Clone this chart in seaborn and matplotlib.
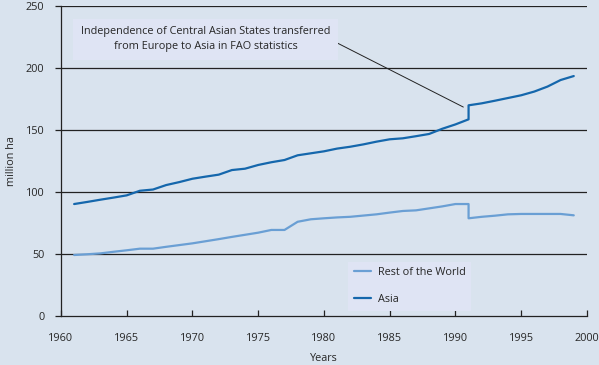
import pandas as pd
import seaborn as sns
import matplotlib.pyplot as plt

sns.set_theme(style="white")
plt.rcParams['font.family'] = ['Open Sans', 'DejaVu Sans']

# data (1991 appears twice: before/after the FAO reclassification)
years = [1961, 1962, 1963, 1964, 1965, 1966, 1967, 1968, 1969, 1970,
         1971, 1972, 1973, 1974, 1975, 1976, 1977, 1978, 1979, 1980,
         1981, 1982, 1983, 1984, 1985, 1986, 1987, 1988, 1989, 1990,
         1991, 1991, 1992, 1993, 1994, 1995, 1996, 1997, 1998, 1999]
asia = [90.3, 92.0, 93.8, 95.5, 97.3, 101.0, 102.0, 105.6, 108.0, 110.7,
        112.4, 114.0, 117.7, 118.8, 121.8, 124.0, 125.8, 129.6, 131.2, 132.8,
        135.0, 136.5, 138.4, 140.6, 142.5, 143.3, 145.0, 146.8, 151.0, 154.5,
        158.6, 169.9, 171.5, 173.6, 175.8, 178.0, 181.0, 185.0, 190.3, 193.5]
rest = [49.2, 49.8, 50.5, 51.8, 53.0, 54.3, 54.3, 55.8, 57.2, 58.6,
        60.3, 62.0, 63.8, 65.5, 67.2, 69.4, 69.4, 76.0, 78.0, 78.8,
        79.5, 80.0, 81.0, 82.0, 83.4, 84.7, 85.2, 86.8, 88.4, 90.3,
        90.3, 78.8, 80.0, 80.9, 82.0, 82.3, 82.3, 82.3, 82.3, 81.2]
series_names = ["Rest of the World", "Asia"]
series_colors = ["#6a9fd4", "#1567ac"]

df = pd.DataFrame({
    "year": years * 2,
    "value": rest + asia,
    "region": [series_names[0]] * len(years) + [series_names[1]] * len(years),
})

bg = "#d9e3ee"
fig = plt.figure(figsize=(5.99, 3.65), dpi=100, facecolor=bg)
ax = fig.add_axes([0.1018, 0.1342, 0.878, 0.8494])
ax.set_facecolor(bg)

for y in [50, 100, 150, 200, 250]:
    ax.axhline(y, color="#222222", lw=0.9, zorder=1)

sns.lineplot(data=df, x="year", y="value", hue="region", hue_order=series_names,
             palette=series_colors, sort=False, estimator=None, units="region",
             lw=1.6, ax=ax, zorder=3)

ax.set_xlim(1960, 2000)
ax.set_ylim(0, 250)
ax.set_xticks(range(1960, 2001, 5))
ax.set_yticks(range(0, 251, 50))
ax.tick_params(axis="x", direction="in", length=4, width=0.9, color="#222222",
               labelsize=7.8, pad=12, bottom=True)
ax.tick_params(axis="y", direction="out", length=4, width=0.9, color="#222222",
               labelsize=7.8, pad=8, left=True)
for s in ["top", "right"]:
    ax.spines[s].set_visible(False)
for s in ["left", "bottom"]:
    ax.spines[s].set_color("#222222")
    ax.spines[s].set_linewidth(0.9)

ax.set_xlabel("Years", fontsize=7.8, labelpad=7)
ax.set_ylabel("million ha", fontsize=7.8, labelpad=6)

ax.annotate("Independence of Central Asian States transferred\nfrom Europe to Asia in FAO statistics",
            xy=(1990.6, 168.5), xytext=(1971.0, 223), fontsize=7.8, ha="center", va="center",
            linespacing=1.5, zorder=5,
            bbox=dict(boxstyle="square,pad=0.7", fc="#dfe4f4", ec="none"),
            arrowprops=dict(arrowstyle="-", color="#222222", lw=0.7, shrinkA=0, shrinkB=0,
                            relpos=(1.0, 0.5)))

leg = ax.legend(loc="lower left", bbox_to_anchor=(0.536, 0.0), frameon=True,
                fontsize=7.8, labelspacing=1.5, handlelength=1.6, handletextpad=0.6,
                borderpad=0.5, facecolor="#dfe4f4", edgecolor="none", fancybox=False)
leg.get_frame().set_alpha(1)

fig.savefig("out.png", dpi=100, facecolor=bg)
